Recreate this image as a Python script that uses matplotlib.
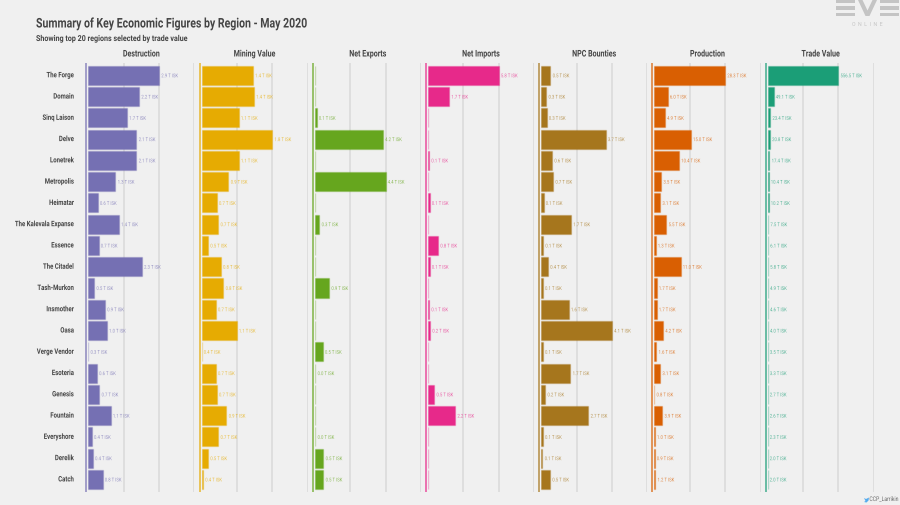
import numpy as np
import matplotlib
matplotlib.use('Agg')
import matplotlib.pyplot as plt
from matplotlib.patches import Rectangle, Polygon
from matplotlib.patheffects import AbstractPathEffect
from matplotlib.transforms import Affine2D
from matplotlib.colors import to_rgba
import warnings
warnings.filterwarnings('ignore')

# ========================= DATA ============================================

regions = ['The Forge', 'Domain', 'Sinq Laison', 'Delve', 'Lonetrek', 'Metropolis',
           'Heimatar', 'The Kalevala Expanse', 'Essence', 'The Citadel', 'Tash-Murkon',
           'Insmother', 'Oasa', 'Verge Vendor', 'Esoteria', 'Genesis', 'Fountain',
           'Everyshore', 'Derelik', 'Catch']

destruction = [2.90, 2.16, 1.71, 2.06, 2.06, 1.28, 0.62, 1.41, 0.65, 2.26,
               0.49, 0.89, 0.96, 0.27, 0.59, 0.68, 1.10, 0.40, 0.44, 0.80]
mining = [1.42, 1.44, 1.14, 1.80, 1.14, 0.94, 0.71, 0.74, 0.54, 0.79,
          0.84, 0.69, 1.10, 0.41, 0.69, 0.71, 0.90, 0.74, 0.54, 0.44]
net_exports = [np.nan, np.nan, 0.12, 4.24, np.nan, 4.40, np.nan, 0.29, np.nan, np.nan,
               0.90, np.nan, np.nan, 0.50, 0.04, np.nan, np.nan, 0.04, 0.54, 0.54]
net_imports = [5.80, 1.74, np.nan, np.nan, 0.10, np.nan, 0.14, np.nan, 0.84, 0.14,
               np.nan, 0.10, 0.18, np.nan, np.nan, 0.52, 2.24, np.nan, np.nan, np.nan]
npc_bounties = [0.54, 0.30, 0.32, 3.74, 0.64, 0.70, 0.14, 1.74, 0.12, 0.40,
                0.10, 1.60, 4.10, 0.10, 1.70, 0.24, 2.74, 0.10, 0.08, 0.52]
production = [28.3, 6.0, 4.9, 15.0, 10.4, 3.5, 3.1, 5.5, 1.3, 11.0,
              1.7, 1.7, 4.2, 1.6, 3.1, 0.8, 3.9, 1.0, 0.9, 1.2]
trade_value = [556.5, 49.1, 23.4, 20.8, 17.4, 10.4, 10.2, 7.5, 6.1, 5.8,
               4.9, 4.6, 4.0, 3.5, 3.3, 2.7, 2.6, 2.3, 2.0, 2.0]

panel_names = ['Destruction', 'Mining Value', 'Net Exports', 'Net Imports',
               'NPC Bounties', 'Production', 'Trade Value']
panel_values = [destruction, mining, net_exports, net_imports,
                npc_bounties, production, trade_value]
# bars in these panels start from the region minimum, net flows start from zero
panel_floor = [True, True, False, False, False, True, True]
panel_colors = ['#7570b3', '#e6ab02', '#66a61e', '#e7298a', '#a6761d', '#d95f02', '#1b9e77']

# ========================= FIGURE ==========================================

W, H = 900, 506
BG = '#f0f0f0'
GRID = '#d9d9d9'
TEXT = '#454545'
plt.rcParams['font.family'] = ['Roboto', 'DejaVu Sans']

fig = plt.figure(figsize=(W / 100, H / 100), dpi=100, facecolor=BG)

X0 = 88.3
STEP = 113.2
UNIT = 35.4
TOP = 64
BOTTOM = 493.3
ROW = 21.27
FIRST = 76.3


# no condensed font is installed, so squeeze the glyphs around the text anchor
class Squeeze(AbstractPathEffect):
    def __init__(self, sx, anchor):
        super().__init__()
        self.sx = sx
        self.anchor = anchor

    def draw_path(self, renderer, gc, tpath, affine, rgbFace=None):
        squeezed = affine + Affine2D().translate(-self.anchor, 0).scale(self.sx, 1).translate(self.anchor, 0)
        renderer.draw_path(gc, tpath, squeezed, rgbFace)


def put_text(x, y_px, s, size, sx, color=TEXT, weight='normal', ha='left', alpha=None):
    t = fig.text(x / W, 1 - y_px / H, s, fontsize=size, color=color, fontweight=weight,
                 ha=ha, va='center', alpha=alpha)
    t.set_path_effects([Squeeze(sx, x)])
    return t


y = np.arange(len(regions))

for i, (name, vals, floor, col) in enumerate(zip(panel_names, panel_values, panel_floor, panel_colors)):
    x0 = X0 + STEP * i
    ax = fig.add_axes([x0 / W, 1 - BOTTOM / H, 3 * UNIT / W, (BOTTOM - TOP) / H])
    ax.set_xlim(0, 3)
    # row 0 sits at FIRST px, the axes top at TOP px
    ax.set_ylim((BOTTOM - FIRST) / ROW, (TOP - FIRST) / ROW)
    ax.patch.set_alpha(0)
    for s in ax.spines.values():
        s.set_visible(False)
    ax.set_xticks([1, 2, 3])
    ax.set_xticklabels([])
    ax.set_yticks([])
    ax.tick_params(length=0)
    ax.grid(axis='x', color=GRID, lw=1.1)
    ax.set_axisbelow(True)

    arr = np.array(vals, dtype=float)
    lo = np.nanmin(arr) if floor else 0.0
    widths = (arr - lo) / (np.nanmax(arr) - lo) * 2
    widths = np.nan_to_num(widths)

    ax.barh(y, widths, height=0.9, color=col,
            edgecolor=to_rgba(col, 0.3), linewidth=1.0, zorder=3)

    # coloured baseline left of the bars
    ax.plot([-2 / UNIT] * 2, [ax.get_ylim()[0], ax.get_ylim()[1]], color=col, lw=1.2,
            alpha=0.75, clip_on=False, solid_capstyle='butt', zorder=4)

    for j, (w, v) in enumerate(zip(widths, arr)):
        if np.isnan(v):
            continue
        put_text(x0 + w * UNIT + 2.2, FIRST + j * ROW + 0.5, f'{v:.1f} T ISK', 3.7, 0.82,
                 color=col, alpha=0.7)

    put_text(x0 + 1.5 * UNIT, 55, name, 6.6, 0.77, weight='bold', ha='center')

    if i == 0:
        for j, region in enumerate(regions):
            put_text(74, FIRST + j * ROW, region, 5.4, 0.8, weight='bold', ha='right')

# ========================= TITLES ==========================================

put_text(36, 25, 'Summary of Key Economic Figures by Region - May 2020', 9.6, 0.79, weight='bold')
put_text(36, 39.5, 'Showing top 20 regions selected by trade value', 5.9, 0.87, weight='bold')

# ========================= LOGO AND CREDIT =================================

LOGO = '#c4c4c4'


def px_poly(points, color):
    fig.add_artist(Polygon([(px / W, 1 - py / H) for px, py in points], closed=True,
                           transform=fig.transFigure, color=color, lw=0))


def px_rect(x, y_top, w, h, color):
    fig.add_artist(Rectangle((x / W, 1 - (y_top + h) / H), w / W, h / H,
                             transform=fig.transFigure, color=color, lw=0))


for ex in (836, 880):
    px_rect(ex, 1, 19, 3.2, LOGO)
    px_rect(ex, 7.3, 19, 3.2, LOGO)
    px_rect(ex, 13.5, 19, 3.2, LOGO)

px_poly([(858, 1), (862.5, 1), (867.5, 11.5), (872.5, 1), (877, 1), (869.5, 17), (865.5, 17)], LOGO)
fig.text(867.5 / W, 1 - 25 / H, 'O  N  L  I  N  E', fontsize=3.8, color=LOGO, ha='center', va='center')

put_text(898.5, 500.5, 'CCP_Larrikin', 4.6, 0.8, color='#6e6e6e', ha='right')
# twitter bird at the credit
px_poly([(864, 499), (866, 500), (869, 498.5), (868.5, 501.5), (866.5, 503.5), (864, 503), (865.5, 502)], '#55acee')

fig.savefig('out.png', dpi=100, facecolor=BG)
